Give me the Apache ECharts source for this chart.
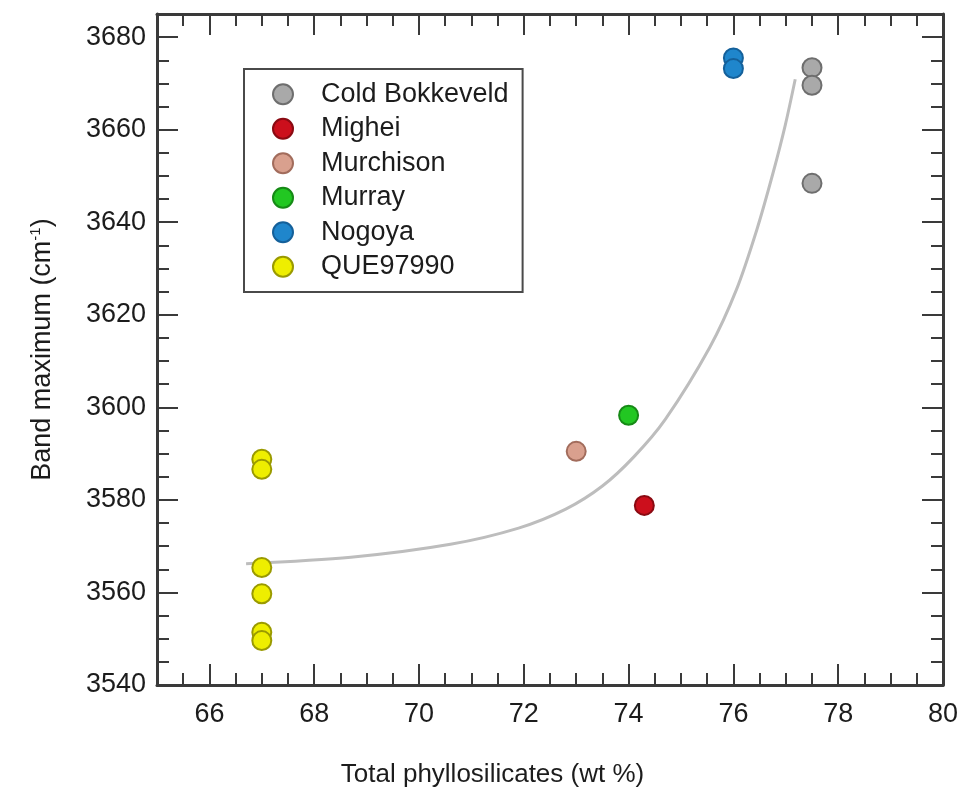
<!DOCTYPE html>
<html>
<head>
<meta charset="utf-8">
<title>Band maximum vs total phyllosilicates</title>
<script src="https://cdn.jsdelivr.net/npm/echarts@6/dist/echarts.min.js"></script>
<style>
  html, body { margin: 0; padding: 0; background: #fff; }
  #chart { width: 971px; height: 793px; }
</style>
</head>
<body>
<div id="chart"></div>
<script>
// Axis tick labels
const xTickValues = [66, 68, 70, 72, 74, 76, 78, 80];
const yTickValues = [3540, 3560, 3580, 3600, 3620, 3640, 3660, 3680];

// Measurements: [total phyllosilicates (wt %), band maximum (cm-1)]
const coldBokkeveld = [[77.5, 3673.4], [77.5, 3669.6], [77.5, 3648.4]];
const mighei = [[74.3, 3578.8]];
const murchison = [[73.0, 3590.5]];
const murray = [[74.0, 3598.3]];
const nogoya = [[76.0, 3675.5], [76.0, 3673.2]];
const que97990 = [[67.0, 3588.8], [67.0, 3586.6], [67.0, 3565.4], [67.0, 3559.7], [67.0, 3551.4], [67.0, 3549.6]];

// Fitted trend curve
const fitCurve = [
  [66.7, 3566.2], [68.7, 3567.6], [70.6, 3570.4], [71.9, 3573.9],
  [72.8, 3578.0], [73.5, 3583.0], [74.1, 3589.3], [74.7, 3597.4],
  [75.55, 3613.0], [76.06, 3625.5], [76.45, 3638.5], [76.76, 3650.8],
  [76.99, 3661.0], [77.18, 3670.9]
];

const seriesNames = ['Cold Bokkeveld', 'Mighei', 'Murchison', 'Murray', 'Nogoya', 'QUE97990'];
const seriesData = [coldBokkeveld, mighei, murchison, murray, nogoya, que97990];
const fillColors = ['#a9a9a9', '#cc0f1c', '#d9a08e', '#22c722', '#1f86cc', '#eeee00'];
const edgeColors = ['#6e6e6e', '#8a0a12', '#a26c5c', '#168a16', '#14609a', '#9a9a00'];

const FONT = '"Liberation Sans", Arial, Helvetica, sans-serif';
const INK = '#1c1c1c';
const AXIS_COLOR = '#3a3a3a';
const X_MIN = 65, X_MAX = 80, Y_MIN = 3540, Y_MAX = 3685;

function frameAxis(kind, position, major) {
  const isX = kind === 'x';
  const ax = {
    type: 'value',
    gridIndex: 0,
    position: position,
    min: isX ? X_MIN : Y_MIN,
    max: isX ? X_MAX : Y_MAX,
    splitLine: { show: false },
    axisLine: { show: major, onZero: false, lineStyle: { color: AXIS_COLOR, width: 3 } },
    axisTick: {
      show: true,
      inside: true,
      length: major ? 21 : 12,
      lineStyle: { color: AXIS_COLOR, width: 2 }
    },
    axisLabel: { show: false },
    axisPointer: { show: false }
  };
  if (major) {
    ax.axisTick.customValues = isX ? xTickValues : yTickValues;
  } else {
    ax.interval = isX ? 0.5 : 5;
  }
  return ax;
}

const xBottom = frameAxis('x', 'bottom', true);
xBottom.axisLabel = {
  show: true,
  customValues: xTickValues,
  formatter: (v) => String(v),
  margin: 16,
  fontFamily: FONT,
  fontSize: 27,
  color: INK
};
xBottom.name = 'Total phyllosilicates (wt %)';
xBottom.nameLocation = 'middle';
xBottom.nameGap = 77;
xBottom.nameTextStyle = { fontFamily: FONT, fontSize: 26, color: INK, padding: [0, 115, 0, 0] };

const yLeft = frameAxis('y', 'left', true);
yLeft.axisLabel = {
  show: true,
  customValues: yTickValues,
  formatter: (v) => String(v),
  margin: 11,
  fontFamily: FONT,
  fontSize: 27,
  color: INK
};
yLeft.name = 'Band maximum (cm{sup|-1})';
yLeft.nameLocation = 'middle';
yLeft.nameRotate = 90;
yLeft.nameGap = 100;
yLeft.nameTextStyle = {
  fontFamily: FONT, fontSize: 27, color: INK,
  rich: { sup: { fontFamily: FONT, fontSize: 15, color: INK, padding: [0, 0, 14, 0] } }
};

const scatterSeries = seriesNames.map((name, i) => ({
  name: name,
  type: 'scatter',
  xAxisIndex: 0,
  yAxisIndex: 0,
  data: seriesData[i],
  symbol: 'circle',
  symbolSize: 19,
  z: 3,
  itemStyle: { color: fillColors[i], borderColor: edgeColors[i], borderWidth: 2, opacity: 1 },
  emphasis: { disabled: true }
}));

const option = {
  backgroundColor: '#ffffff',
  animation: false,
  grid: { left: 157, right: 28, top: 14, bottom: 108, containLabel: false },
  xAxis: [xBottom, frameAxis('x', 'bottom', false), frameAxis('x', 'top', true), frameAxis('x', 'top', false)],
  yAxis: [yLeft, frameAxis('y', 'left', false), frameAxis('y', 'right', true), frameAxis('y', 'right', false)],
  legend: {
    data: seriesNames,
    orient: 'vertical',
    left: 244,
    top: 69,
    padding: [11.75, 14, 11.75, 28],
    itemWidth: 20,
    itemHeight: 20,
    itemGap: 7.5,
    borderColor: '#4a4a4a',
    borderWidth: 2,
    backgroundColor: '#ffffff',
    selectedMode: false,
    textStyle: { fontFamily: FONT, fontSize: 27, lineHeight: 27, color: INK, padding: [0, 0, 0, 23] }
  },
  series: [
    {
      name: 'fit',
      type: 'line',
      xAxisIndex: 0,
      yAxisIndex: 0,
      data: fitCurve,
      smooth: 0.3,
      symbol: 'none',
      z: 1,
      lineStyle: { color: '#bdbdbd', width: 3 },
      emphasis: { disabled: true }
    }
  ].concat(scatterSeries)
};

const chart = echarts.init(document.getElementById('chart'), null, { renderer: 'canvas' });
chart.setOption(option);
</script>
</body>
</html>
